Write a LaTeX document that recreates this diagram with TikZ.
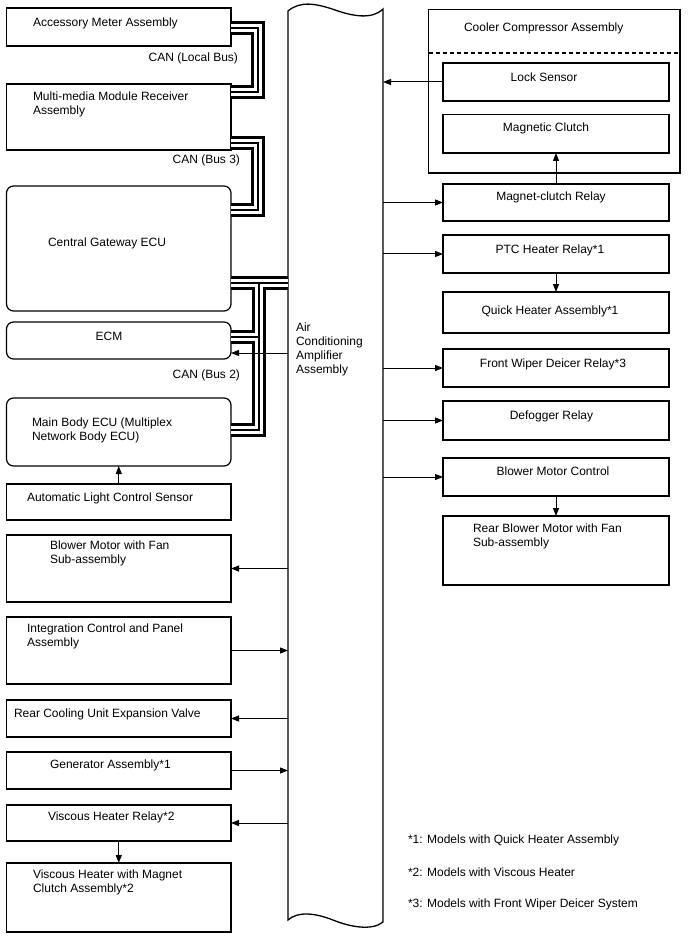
\documentclass[tikz,border=0pt]{standalone}
\usepackage{fontspec}
\setmainfont{Liberation Sans}
\usetikzlibrary{arrows.meta}
\begin{document}
\begin{tikzpicture}[x=1pt,y=-1pt,
  box/.style={draw, line width=1.2pt, inner sep=0pt, outer sep=0pt, anchor=north west},
  rbox/.style={box, rounded corners=7pt},
  txt/.style={inner sep=0pt, outer sep=0pt, font=\fontsize{12}{14}\selectfont, align=left, anchor=base west},
  ctxt/.style={txt, anchor=base, align=center},
  arr/.style={line width=1pt, -{Triangle[length=8pt,width=6pt]}},
  ampline/.style={line width=1.3pt}
]
\useasboundingbox (0,0) rectangle (688,949);

% central amplifier
\node[inner sep=0pt, outer sep=0pt, minimum width=95pt, minimum height=910pt, anchor=north west] (amp) at (288,10) {};
\draw[ampline] (288,920) -- (288,11) .. controls (300,1) and (315,3) .. (335,10) .. controls (352,16) and (372,20) .. (383,9) -- (383,922) .. controls (372,931) and (350,927) .. (333,920) .. controls (315,913) and (298,911) .. (288,920) -- cycle;

% left boxes
\node[box, minimum width=224.5pt, minimum height=38pt] (acc) at (6.5,8) {};
\node[box, minimum width=224.5pt, minimum height=66pt] (mm) at (6.5,84) {};
\node[rbox, minimum width=224.5pt, minimum height=125pt] (gw) at (6.5,186) {};
\node[rbox, minimum width=224.5pt, minimum height=37pt] (ecm) at (6.5,322) {};
\node[rbox, minimum width=224.5pt, minimum height=68pt] (mb) at (6.5,398) {};
\node[box, minimum width=224.5pt, minimum height=36pt] (als) at (6.5,484) {};
\node[box, minimum width=224.5pt, minimum height=67pt] (bm) at (6.5,535) {};
\node[box, minimum width=224.5pt, minimum height=67pt] (icp) at (6.5,617) {};
\node[box, minimum width=224.5pt, minimum height=37pt] (rcv) at (6.5,700) {};
\node[box, minimum width=224.5pt, minimum height=37pt] (gen) at (6.5,752) {};
\node[box, minimum width=224.5pt, minimum height=36pt] (vhr) at (6.5,805) {};
\node[box, minimum width=224.5pt, minimum height=69pt] (vh) at (6.5,863) {};

% right boxes
\node[box, minimum width=251.5pt, minimum height=163.5pt] (cca) at (428.5,9.5) {};
\draw[line width=1.2pt, dash pattern=on 4pt off 3pt] (cca.west |- 0,53) -- (cca.east |- 0,53);
\node[box, minimum width=226pt, minimum height=38pt] (ls) at (443,63) {};
\node[box, minimum width=226pt, minimum height=38.5pt] (mc) at (443,114.5) {};
\node[box, minimum width=226pt, minimum height=37pt] (mcr) at (443,184) {};
\node[box, minimum width=226pt, minimum height=38pt] (ptc) at (443,235) {};
\node[box, minimum width=226pt, minimum height=41pt] (qh) at (443,292) {};
\node[box, minimum width=226pt, minimum height=38pt] (fw) at (443,349) {};
\node[box, minimum width=226pt, minimum height=39pt] (dr) at (443,401) {};
\node[box, minimum width=226pt, minimum height=38pt] (bmc) at (443,458) {};
\node[box, minimum width=226pt, minimum height=69pt] (rb) at (443,516) {};

% CAN buses
\foreach \w/\c in {14/black,8/white,1.2/black}{
  \draw[line width=\w pt, color=\c, line join=miter] (acc.east |- 0,28) -- (258,28) -- (258,92) -- (mm.east |- 0,92);
  \draw[line width=\w pt, color=\c, line join=miter] (mm.east |- 0,143) -- (258,143) -- (258,210) -- (gw.east |- 0,210);
  \draw[line width=\w pt, color=\c, line join=miter] (gw.east |- 0,283) -- (amp.west |- 0,283);
  \draw[line width=\w pt, color=\c, line join=miter] (259,283) -- (259,430) -- (mb.east |- 0,430);
  \draw[line width=\w pt, color=\c, line join=miter] (ecm.east |- 0,337) -- (259,337);
}

% arrows right
\draw[arr] (ls.west) -- (ls.west -| amp.east);
\draw[arr] (mcr.north) -- (mc.south);
\draw[arr] (amp.east |- mcr.west) -- (mcr.west);
\draw[arr] (amp.east |- ptc.west) -- (ptc.west);
\draw[arr] (ptc.south) -- (qh.north);
\draw[arr] (amp.east |- fw.west) -- (fw.west);
\draw[arr] (amp.east |- dr.west) -- (dr.west);
\draw[arr] (amp.east |- bmc.west) -- (bmc.west);
\draw[arr] (bmc.south) -- (rb.north);

% arrows left
\draw[arr] (amp.west |- 0,353) -- (ecm.east |- 0,353);
\draw[arr] (als.north) -- (mb.south);
\draw[arr] (amp.west |- bm.east) -- (bm.east);
\draw[arr] (icp.east) -- (amp.west |- icp.east);
\draw[arr] (amp.west |- rcv.east) -- (rcv.east);
\draw[arr] (gen.east) -- (amp.west |- gen.east);
\draw[arr] (amp.west |- vhr.east) -- (vhr.east);
\draw[arr] (vhr.south) -- (vh.north);

% texts left (multi-line nodes: base = last line)
\node[txt] (t-acc) at (33,26.5) {Accessory Meter Assembly};
\node[txt, anchor=base east] (t-can1) at (238,62) {CAN (Local Bus)};
\node[txt] (t-mm) at (33,115) {Multi-media Module Receiver\\Assembly};
\node[txt, anchor=base east] (t-can3) at (240,164) {CAN (Bus 3)};
\node[txt] (t-gw) at (48,247) {Central Gateway ECU};
\node[ctxt] (t-ecm) at (109,340.5) {ECM};
\node[txt, anchor=base east] (t-can2) at (240,378) {CAN (Bus 2)};
\node[txt] (t-mb) at (32,440.5) {Main Body ECU (Multiplex\\Network Body ECU)};
\node[txt] (t-als) at (27,501.5) {Automatic Light Control Sensor};
\node[txt] (t-bm) at (50,563.5) {Blower Motor with Fan\\Sub-assembly};
\node[txt] (t-icp) at (27,646.5) {Integration Control and Panel\\Assembly};
\node[txt] (t-rcv) at (14,717.5) {Rear Cooling Unit Expansion Valve};
\node[txt] (t-gen) at (50,768.5) {Generator Assembly*1};
\node[txt] (t-vhr) at (48,820.5) {Viscous Heater Relay*2};
\node[txt] (t-vh) at (33,892) {Viscous Heater with Magnet\\Clutch Assembly*2};

% amplifier text
\node[txt] (t-amp) at (296,373) {Air\\Conditioning\\Amplifier\\Assembly};

% texts right
\node[txt] (t-cca) at (464,32) {Cooler Compressor Assembly};
\node[ctxt] (t-ls) at (544,82) {Lock Sensor};
\node[ctxt] (t-mc) at (546,132) {Magnetic Clutch};
\node[ctxt] (t-mcr) at (551,200.5) {Magnet-clutch Relay};
\node[ctxt] (t-ptc) at (550,253.5) {PTC Heater Relay*1};
\node[ctxt] (t-qh) at (550,314.5) {Quick Heater Assembly*1};
\node[ctxt] (t-fw) at (553,367.5) {Front Wiper Deicer Relay*3};
\node[ctxt] (t-dr) at (551.5,419.5) {Defogger Relay};
\node[ctxt] (t-bmc) at (553,475.5) {Blower Motor Control};
\node[txt] (t-rb) at (473,546.5) {Rear Blower Motor with Fan\\Sub-assembly};

% footnotes
\node[txt] (fn1) at (408,843) {*1: Models with Quick Heater Assembly};
\node[txt] (fn2) at (408,876) {*2: Models with Viscous Heater};
\node[txt] (fn3) at (408,907) {*3: Models with Front Wiper Deicer System};
\end{tikzpicture}
\end{document}
